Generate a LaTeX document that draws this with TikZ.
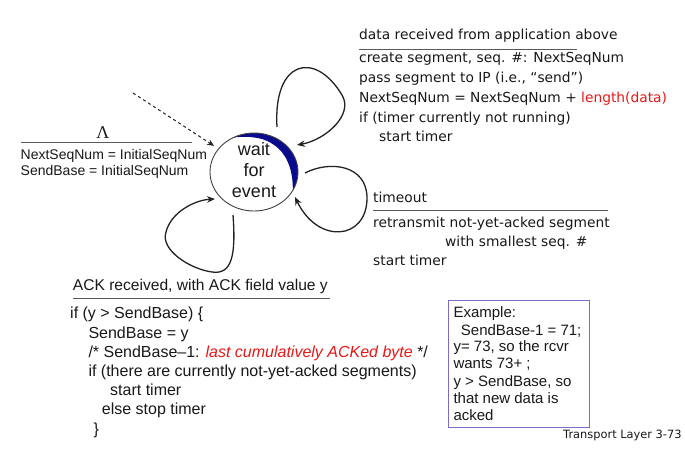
\documentclass[tikz,border=0pt]{standalone}
\usepackage{fontspec}
\setmainfont{Liberation Sans}
\newfontfamily\verd{DejaVu Sans}
\newfontfamily\serifLS{Liberation Serif}
\usetikzlibrary{arrows.meta,shapes.geometric,calc}
\definecolor{txt}{RGB}{25,25,25}
\definecolor{redt}{RGB}{230,25,25}
\definecolor{navy}{RGB}{10,10,140}
\definecolor{boxc}{RGB}{120,110,200}
\definecolor{rulec}{RGB}{90,90,90}
\definecolor{loopc}{RGB}{35,35,35}
\begin{document}
\begin{tikzpicture}[x=1pt,y=-1pt,
  lbl/.style={anchor=base west, inner sep=0, text=txt},
  ar/.style={lbl, font=\fontsize{14}{16}\selectfont},
  vd/.style={lbl, font=\verd\fontsize{13.8}{16}\selectfont},
  cd/.style={lbl, font=\fontsize{16}{18}\selectfont},
  ex/.style={lbl, font=\fontsize{15}{17}\selectfont},
  wt/.style={anchor=base, inner sep=0, text=txt, font=\fontsize{18}{20}\selectfont},
  rulel/.style={draw=rulec, line width=0.9pt},
  loopl/.style={draw=loopc, line width=1.3pt, -{Stealth[length=8pt,width=6.5pt]}},
]
\fill[white] (0,0) rectangle (685,448);
\useasboundingbox (0,0) rectangle (685,448);

% state
\fill[navy] (233.3,137.6) arc[start angle=-118, end angle=28, x radius=44, y radius=39]
  .. controls (293,175) and (290,148) .. (262,139)
  .. controls (250,136) and (240,136.5) .. (233.3,137.6) -- cycle;
\node[ellipse, draw=black!75, line width=0.9pt, minimum width=88pt, minimum height=78pt, inner sep=0] (w) at (254,172) {};
\node[wt] (w1) at (254,155.5) {wait};
\node[wt] (w2) at (254,176) {for};
\node[wt] (w3) at (254,197) {event};

% initial
\coordinate (init) at (133,93);
\draw[draw=loopc, line width=1pt, dashed, -{Stealth[length=7pt,width=6pt]}, shorten >=5pt] (init) -- (w);
\node[inner sep=0, font=\serifLS\fontsize{18}{20}\selectfont, text=txt] (lam) at (103,133) {Λ};
\coordinate (l1a) at (20.5,142.5); \coordinate (l1b) at (192,142.5);
\draw[rulel] (l1a) -- (l1b);
\node[ar] (i1) at (20.5,159.2) {NextSeqNum = InitialSeqNum};
\node[ar] (i2) at (20.5,175) {SendBase = InitialSeqNum};

% top loop
\coordinate (t1) at (277,127); \coordinate (t2) at (297,145);
\draw[loopl] (t1) .. controls (273,60) and (315,50) .. (342,95)
  .. controls (354,115) and (325,140) .. (t2);
\node[vd] (d0) at (359,39.2) {data received from application above};
\coordinate (l2a) at (359,49.3); \coordinate (l2b) at (577,49.3);
\draw[rulel] (l2a) -- (l2b);
\node[vd] (d1) at (359,62.4) {create segment, seq. \#: NextSeqNum};
\node[vd] (d2) at (359,82.4) {pass segment to IP (i.e., “send”)};
\node[vd] (d3) at (359,102.4) {NextSeqNum = NextSeqNum + \textcolor{redt}{length(data)}};
\node[vd] (d4) at (359,122.4) {if (timer currently not running)};
\node[vd] (d5) at (379,141.4) {start timer};

% right loop
\coordinate (r1) at (305,173); \coordinate (r2) at (295,197);
\draw[loopl] (r1) .. controls (330,160) and (367,165) .. (367,198)
  .. controls (367,240) and (318,245) .. (r2);
\node[vd] (o0) at (373,202.4) {timeout};
\coordinate (l3a) at (373,210.7); \coordinate (l3b) at (608,210.7);
\draw[rulel] (l3a) -- (l3b);
\node[vd] (o1) at (373,227.4) {retransmit not-yet-acked segment};
\node[vd] (o2) at (445,246.8) {with smallest seq. \#};
\node[vd] (o3) at (373,265.8) {start timer};

% bottom loop
\coordinate (b1) at (233,215); \coordinate (b2) at (215,199);
\draw[loopl] (b1) .. controls (236,255) and (232,275) .. (212,272)
  .. controls (190,269) and (160,250) .. (166,232)
  .. controls (171,212) and (195,200) .. (b2);
\node[lbl, font=\fontsize{15.6}{18}\selectfont] (a0) at (72.7,290.6) {ACK received, with ACK field value y};
\coordinate (l4a) at (72.7,298.3); \coordinate (l4b) at (330,298.3);
\draw[rulel] (l4a) -- (l4b);
\node[cd] (c1) at (70,318.1) {if (y > SendBase) \{};
\node[cd] (c2) at (88.3,338.1) {SendBase = y};
\node[cd] (c3) at (88.3,357.1) {/* SendBase–1: \textcolor{redt}{\itshape last cumulatively ACKed byte} */};
\node[cd] (c4) at (88.3,376.5) {if (there are currently not-yet-acked segments)};
\node[cd] (c5) at (110,395.5) {start timer};
\node[cd] (c6) at (101.7,414.1) {else stop timer};
\node[cd] (c7) at (93.3,434.1) {\}};

% example box
\node[draw=boxc, line width=1pt, minimum width=141pt, minimum height=127pt, inner sep=0, anchor=north west] (box) at (448.3,300) {};
\node[ex] (e1) at (453.3,317.2) {Example:};
\node[ex] (e2) at (460.7,335.2) {SendBase-1 = 71;};
\node[ex] (e3) at (453.3,351.8) {y= 73, so the rcvr};
\node[ex] (e4) at (453.3,368.5) {wants 73+ ;};
\node[ex] (e5) at (453.3,386.2) {y > SendBase, so};
\node[ex] (e6) at (453.3,403.5) {that new data is};
\node[ex] (e7) at (453.3,420.2) {acked};

\node[lbl, font=\verd\fontsize{11.4}{13}\selectfont] (tl) at (563,438.4) {Transport Layer 3-73};
\end{tikzpicture}
\end{document}
